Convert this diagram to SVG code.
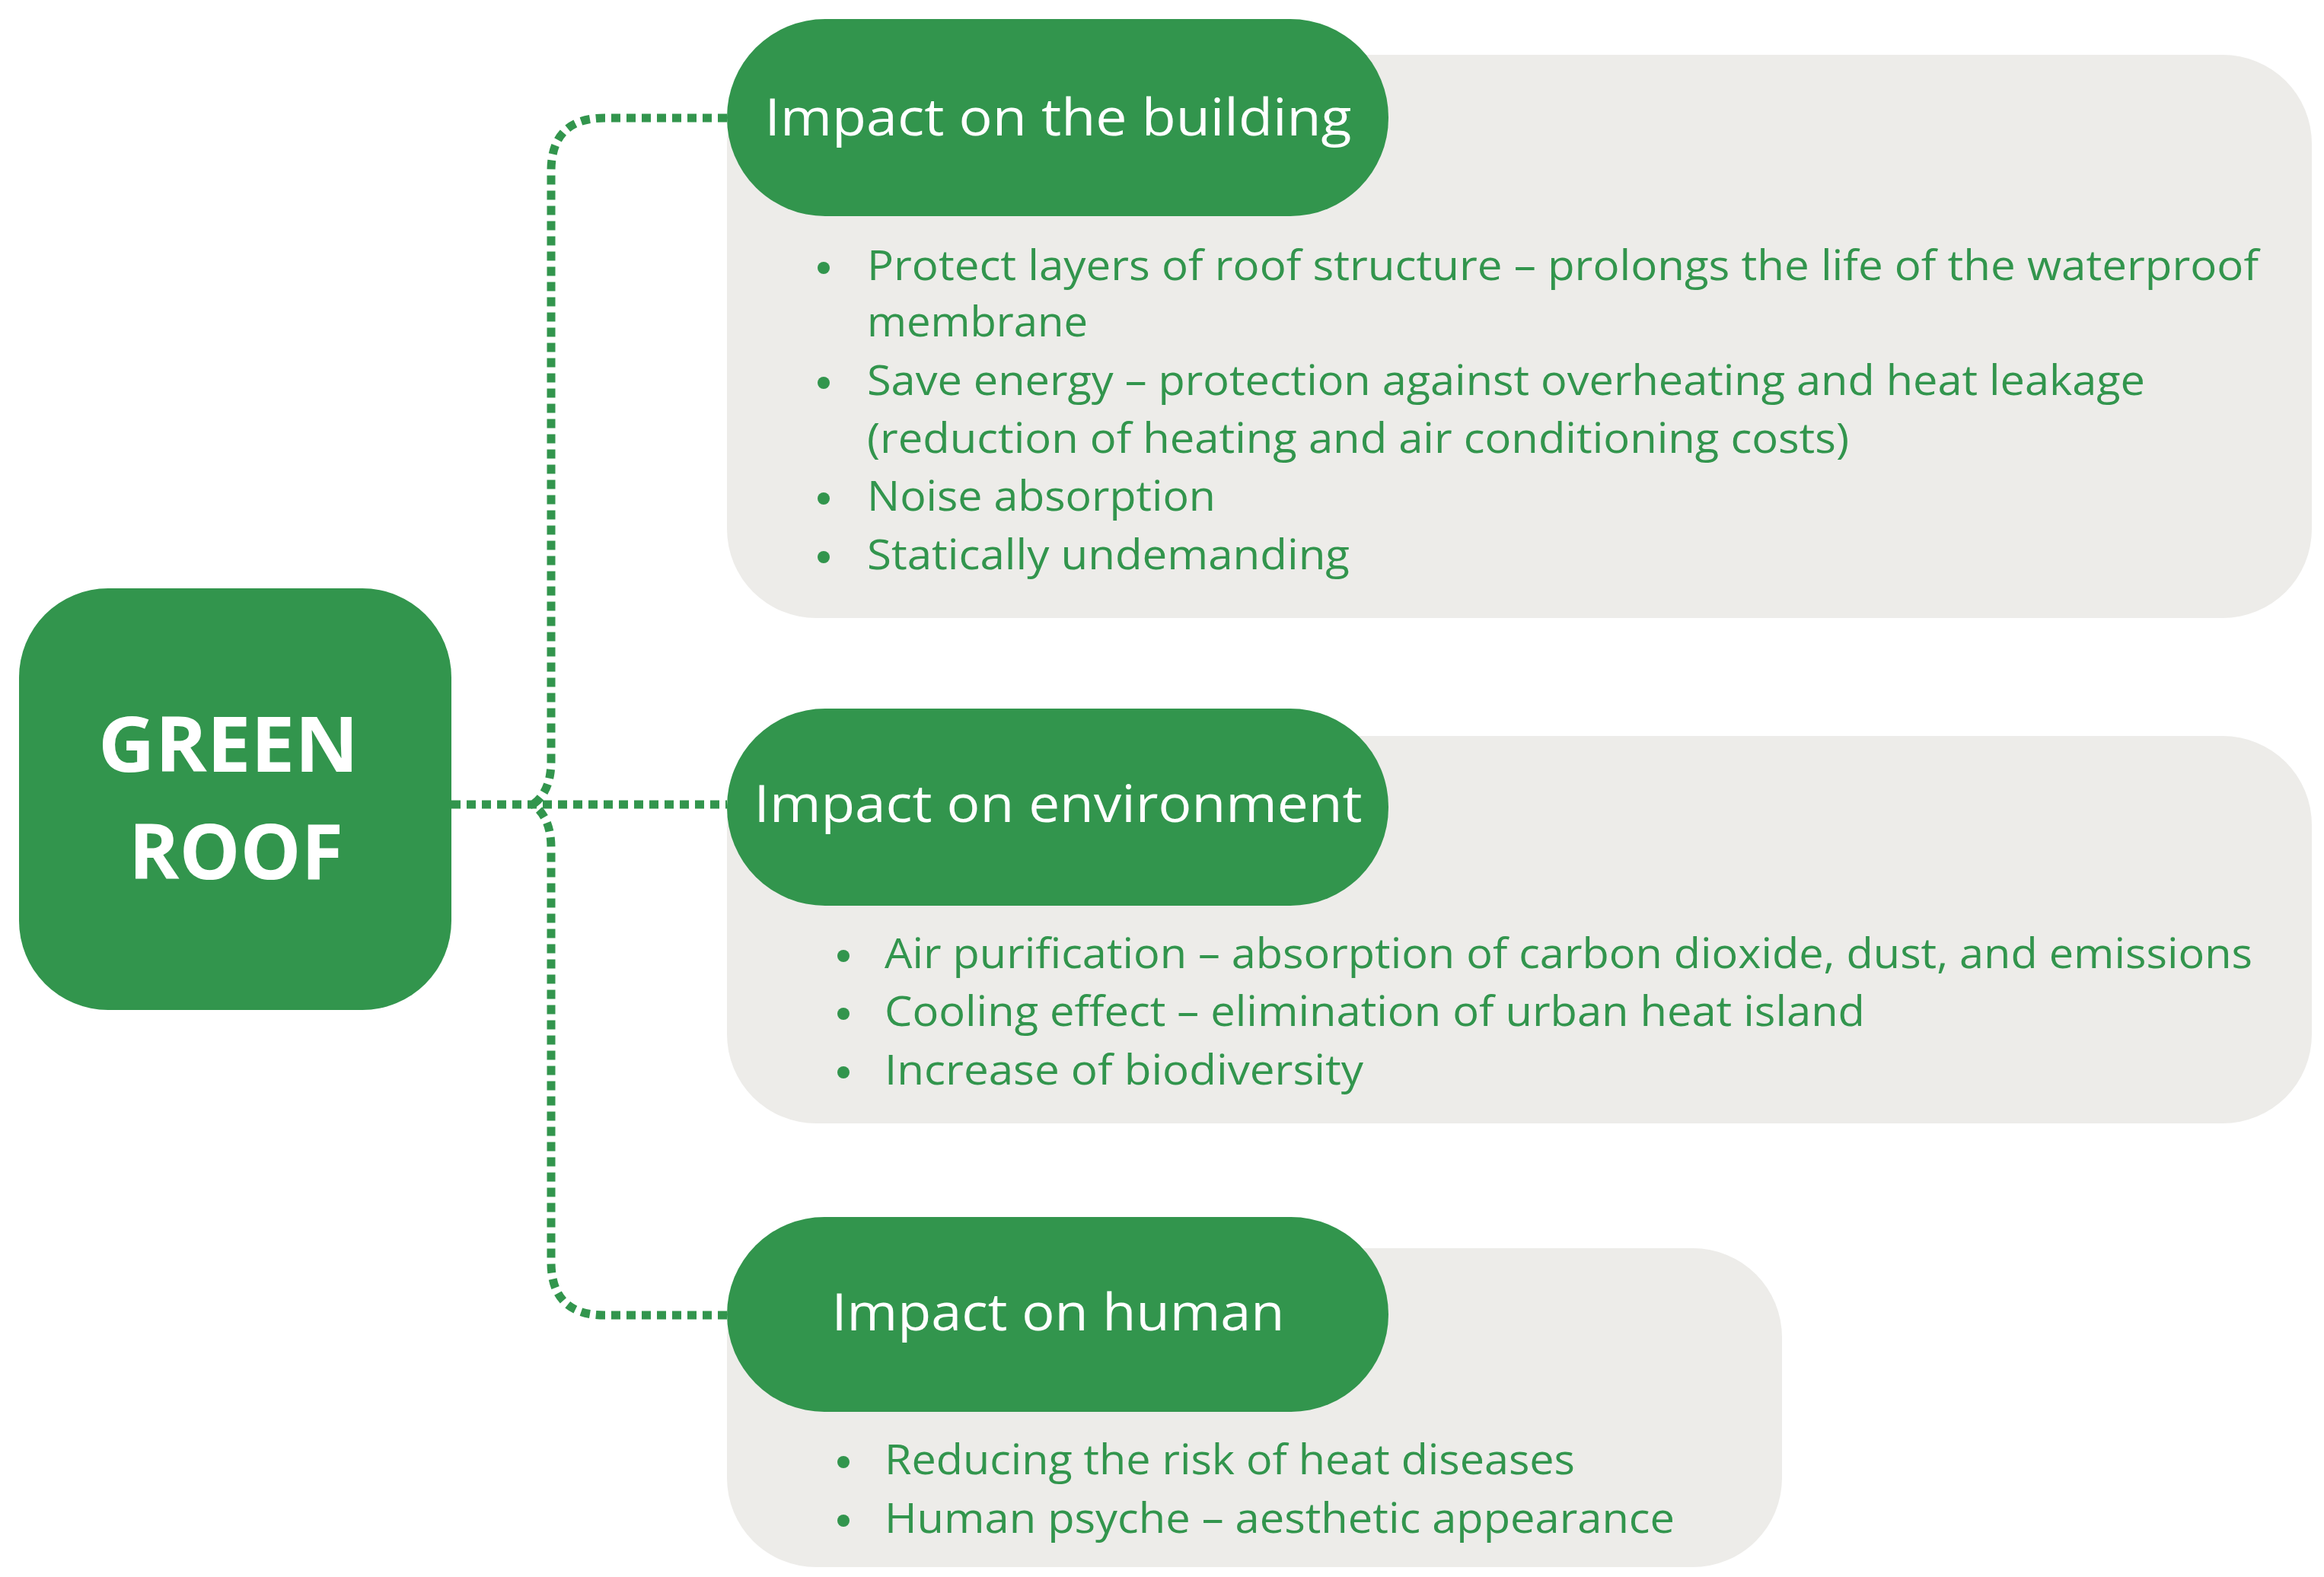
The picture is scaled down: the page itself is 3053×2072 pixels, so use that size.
<svg xmlns="http://www.w3.org/2000/svg" width="3053" height="2072" viewBox="0 0 3053 2072">
<style>
.card{fill:#EDECE9}
.pill{fill:#32954D}
.pt{font-family:"Open Sans","Liberation Sans",sans-serif;font-size:68px;fill:#fff;text-anchor:middle}
.bt{font-family:"Open Sans","Liberation Sans",sans-serif;font-size:54px;fill:#32954D}
.conn{fill:none;stroke:#32954D;stroke-width:11;stroke-dasharray:12 8}
</style>
<rect width="3053" height="2072" fill="#fff"/>
<g id="connectors">
<path class="conn" d="M955 155 H794 Q724 155 724 225 V1000 Q724 1040 700 1057"/>
<path class="conn" d="M955 1728 H794 Q724 1728 724 1658 V1114 Q724 1074 700 1057"/>
<path class="conn" d="M593 1057 H955"/>
</g>
<g id="green-roof">
<rect x="25" y="773" width="568" height="554" rx="117" class="pill"/>
<text x="300" y="1014" font-family="'Open Sans','Liberation Sans',sans-serif" font-weight="bold" font-size="100" fill="#fff" text-anchor="middle" textLength="342" lengthAdjust="spacingAndGlyphs">GREEN</text>
<text x="310" y="1155" font-family="'Open Sans','Liberation Sans',sans-serif" font-weight="bold" font-size="100" fill="#fff" text-anchor="middle" textLength="282" lengthAdjust="spacingAndGlyphs">ROOF</text>
</g>
<g id="building">
<rect x="955" y="72" width="2082" height="740" rx="117" class="card"/>
<rect x="955" y="25" width="869" height="259" rx="129" class="pill"/>
<text x="1390" y="178" class="pt" textLength="771" lengthAdjust="spacingAndGlyphs">Impact on the building</text>
<g class="bt">
<circle cx="1082" cy="352" r="8" fill="#32954D"/>
<text x="1139" y="368" textLength="1828" lengthAdjust="spacingAndGlyphs">Protect layers of roof structure – prolongs the life of the waterproof</text>
<text x="1139" y="442" textLength="290" lengthAdjust="spacingAndGlyphs">membrane</text>
<circle cx="1082" cy="503" r="8" fill="#32954D"/>
<text x="1139" y="519" textLength="1679" lengthAdjust="spacingAndGlyphs">Save energy – protection against overheating and heat leakage</text>
<text x="1139" y="595" textLength="1290" lengthAdjust="spacingAndGlyphs">(reduction of heating and air conditioning costs)</text>
<circle cx="1082" cy="655" r="8" fill="#32954D"/>
<text x="1139" y="671" textLength="458" lengthAdjust="spacingAndGlyphs">Noise absorption</text>
<circle cx="1082" cy="732" r="8" fill="#32954D"/>
<text x="1139" y="748" textLength="634" lengthAdjust="spacingAndGlyphs">Statically undemanding</text>
</g>
</g>
<g id="environment">
<rect x="955" y="967" width="2082" height="509" rx="117" class="card"/>
<rect x="955" y="931" width="869" height="259" rx="129" class="pill"/>
<text x="1390" y="1080" class="pt" textLength="799" lengthAdjust="spacingAndGlyphs">Impact on environment</text>
<g class="bt">
<circle cx="1108" cy="1256" r="8" fill="#32954D"/>
<text x="1162" y="1272" textLength="1797" lengthAdjust="spacingAndGlyphs">Air purification – absorption of carbon dioxide, dust, and emissions</text>
<circle cx="1108" cy="1332" r="8" fill="#32954D"/>
<text x="1162" y="1348" textLength="1288" lengthAdjust="spacingAndGlyphs">Cooling effect – elimination of urban heat island</text>
<circle cx="1108" cy="1409" r="8" fill="#32954D"/>
<text x="1162" y="1425" textLength="629" lengthAdjust="spacingAndGlyphs">Increase of biodiversity</text>
</g>
</g>
<g id="human">
<rect x="955" y="1640" width="1386" height="419" rx="117" class="card"/>
<rect x="955" y="1599" width="869" height="256" rx="128" class="pill"/>
<text x="1390" y="1748" class="pt" textLength="595" lengthAdjust="spacingAndGlyphs">Impact on human</text>
<g class="bt">
<circle cx="1108" cy="1921" r="8" fill="#32954D"/>
<text x="1162" y="1937" textLength="907" lengthAdjust="spacingAndGlyphs">Reducing the risk of heat diseases</text>
<circle cx="1108" cy="1998" r="8" fill="#32954D"/>
<text x="1162" y="2014" textLength="1038" lengthAdjust="spacingAndGlyphs">Human psyche – aesthetic appearance</text>
</g>
</g>
</svg>
